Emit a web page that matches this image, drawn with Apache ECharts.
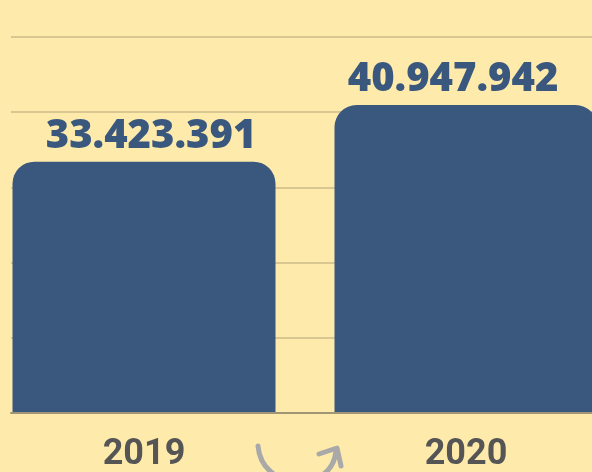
<!DOCTYPE html>
<html>
<head>
<meta charset="utf-8">
<script src="https://cdn.jsdelivr.net/npm/echarts@6/dist/echarts.min.js"></script>
<style>
  html, body { margin: 0; padding: 0; background: #feebab; }
  #chart { width: 592px; height: 472px; }
</style>
</head>
<body>
<div id="chart"></div>
<script>
const years = ["2019", "2020"];
const totals = [33423391, 40947942];
const yMax = 50000000;
const yStep = 10000000;

// dot as thousands separator
const fmt = (v) => String(v).replace(/\B(?=(\d{3})+(?!\d))/g, ".");

// the value labels are not quite centred on their bars in the original
const labelShift = [7, -13];

const chart = echarts.init(document.getElementById("chart"));

const option = {
  backgroundColor: "#feebab",
  animation: false,
  grid: [
    // bars grid, wider than the canvas so the bars sit flush at the edges
    { left: -17, right: -35, top: 37, bottom: 59, containLabel: false, outerBoundsMode: "none" },
    // grid lines + baseline
    { left: 11, right: 0, top: 37, bottom: 59, containLabel: false, outerBoundsMode: "none" }
  ],
  xAxis: [
    {
      type: "category",
      gridIndex: 0,
      data: years,
      axisLine: { show: false },
      axisTick: { show: false },
      axisLabel: {
        margin: 24,
        fontSize: 36,
        fontWeight: "bold",
        fontFamily: "Roboto",
        color: "#555555"
      }
    },
    {
      type: "category",
      gridIndex: 1,
      data: years,
      z: 5,
      axisLine: { show: true, lineStyle: { color: "#a09574", width: 2 } },
      axisTick: { show: false },
      axisLabel: { show: false }
    }
  ],
  yAxis: [
    {
      type: "value",
      gridIndex: 0,
      min: 0,
      max: yMax,
      interval: yStep,
      show: false,
      splitLine: { show: false }
    },
    {
      type: "value",
      gridIndex: 1,
      min: 0,
      max: yMax,
      interval: yStep,
      axisLine: { show: false },
      axisTick: { show: false },
      axisLabel: { show: false },
      splitLine: { lineStyle: { color: "#d8c790", width: 2 } }
    }
  ],
  series: [
    {
      type: "bar",
      xAxisIndex: 0,
      yAxisIndex: 0,
      data: totals.map((v, i) => ({ value: v, label: { offset: [labelShift[i], 0] } })),
      barWidth: 263,
      itemStyle: { color: "#3a577e", borderRadius: [22, 22, 0, 0] },
      label: {
        show: true,
        position: "top",
        distance: 5,
        fontSize: 40,
        fontWeight: 800,
        fontFamily: "Open Sans",
        color: "#3a577e",
        formatter: (p) => fmt(p.value)
      }
    }
  ],
  graphic: [
    {
      type: "bezierCurve",
      silent: true,
      shape: { x1: 258, y1: 446, cpx1: 262, cpy1: 492, cpx2: 332, cpy2: 494, x2: 336, y2: 451 },
      style: { fill: null, stroke: "#a9a9a9", lineWidth: 5, lineCap: "round" }
    },
    {
      type: "polyline",
      silent: true,
      shape: { points: [[319, 454], [337, 448], [341, 466]] },
      style: { fill: null, stroke: "#a9a9a9", lineWidth: 5, lineCap: "round", lineJoin: "round" }
    }
  ]
};

chart.setOption(option);
</script>
</body>
</html>
